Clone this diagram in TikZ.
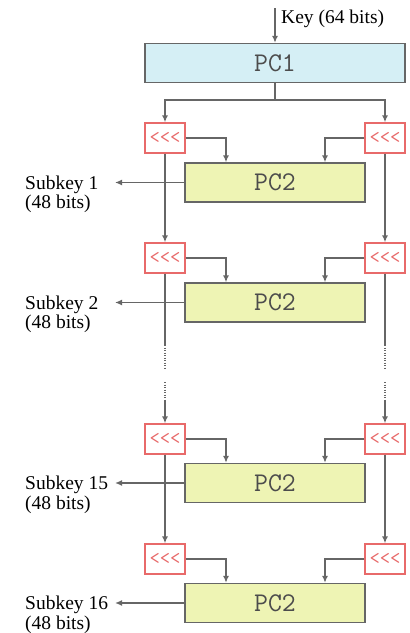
\documentclass[tikz,border=0pt]{standalone}
\usepackage{fontspec}
\setmainfont{Liberation Serif}
\usetikzlibrary{arrows.meta}
\definecolor{linegray}{HTML}{666666}
\definecolor{pcone}{HTML}{D5EFF5}
\definecolor{pctwo}{HTML}{EEF4B4}
\definecolor{shred}{HTML}{E86A6A}
\begin{document}
\begin{tikzpicture}[x=1pt,y=-1pt,
  pcbox/.style={draw=linegray, line width=1.3pt, minimum height=39pt, inner sep=0pt,
    font=\ttfamily\fontsize{27}{27}\selectfont, text=black!70},
  shbox/.style={draw=shred, fill=white, line width=1.3pt, minimum width=40pt, minimum height=30pt,
    inner sep=0pt, text=shred, font=\ttfamily\fontsize{20}{20}\selectfont},
  arr/.style={draw=linegray, line width=1.5pt, -{Latex[length=7pt,width=6pt]}},
  plain/.style={draw=linegray, line width=1.5pt},
  dotl/.style={draw=linegray, line width=1.5pt, dash pattern=on 1pt off 1.5pt},
  lbl/.style={font=\fontsize{19.5}{19.5}\selectfont, align=left, inner sep=0pt, anchor=west}]
\useasboundingbox (0,0) rectangle (410,633);

% PC1
\node[pcbox, fill=pcone, minimum width=260pt] (pc1) at (275,63) {PC1};
\coordinate (keyin) at (275,8);
\draw[arr] (keyin) -- (pc1.north);
\node[lbl] (keylbl) at (281,19) {Key (64 bits)};

% shift boxes
\node[shbox] (sl1) at (165,138) {<<<};
\node[shbox] (sr1) at (385,138) {<<<};
\node[shbox] (sl2) at (165,258) {<<<};
\node[shbox] (sr2) at (385,258) {<<<};
\node[shbox] (sl3) at (165,439) {<<<};
\node[shbox] (sr3) at (385,439) {<<<};
\node[shbox] (sl4) at (165,559) {<<<};
\node[shbox] (sr4) at (385,559) {<<<};

% PC2 boxes
\node[pcbox, fill=pctwo, minimum width=180pt] (p1) at (275,182.5) {PC2};
\node[pcbox, fill=pctwo, minimum width=180pt] (p2) at (275,302.5) {PC2};
\node[pcbox, fill=pctwo, minimum width=180pt] (p3) at (275,483) {PC2};
\node[pcbox, fill=pctwo, minimum width=180pt] (p4) at (275,603) {PC2};

% PC1 to first shifts
\draw[arr] (pc1.south) -- ++(0,17) -| (sl1.north);
\draw[arr] (pc1.south) -- ++(0,17) -| (sr1.north);

% shifts to PC2
\foreach \i in {1,2,3,4}{
  \draw[arr] (sl\i.east) -| ([xshift=-49pt]p\i.north);
  \draw[arr] (sr\i.west) -| ([xshift=50pt]p\i.north);
}

% vertical chains
\draw[arr] (sl1.south) -- (sl2.north);
\draw[arr] (sr1.south) -- (sr2.north);
\draw[arr] (sl3.south) -- (sl4.north);
\draw[arr] (sr3.south) -- (sr4.north);

% dotted gaps
\coordinate (la) at (165,345); \coordinate (lb) at (165,370);
\coordinate (lc) at (165,382); \coordinate (ld) at (165,401);
\coordinate (ra) at (385,345); \coordinate (rb) at (385,370);
\coordinate (rc) at (385,382); \coordinate (rd) at (385,401);
\draw[plain] (sl2.south) -- (la);
\draw[dotl] (la) -- (lb);
\draw[dotl] (lc) -- (ld);
\draw[arr] (ld) -- (sl3.north);
\draw[plain] (sr2.south) -- (ra);
\draw[dotl] (ra) -- (rb);
\draw[dotl] (rc) -- (rd);
\draw[arr] (rd) -- (sr3.north);

% subkey outputs
\coordinate (k1) at (115,182.5);
\coordinate (k2) at (115,302.5);
\coordinate (k3) at (115,483);
\coordinate (k4) at (115,603);
\draw[arr] (p1.west) -- (k1);
\draw[arr] (p2.west) -- (k2);
\draw[arr] (p3.west) -- (k3);
\draw[arr] (p4.west) -- (k4);
\node[lbl] (s1) at (25,194.5) {Subkey 1\\(48 bits)};
\node[lbl] (s2) at (25,314.5) {Subkey 2\\(48 bits)};
\node[lbl] (s3) at (25,495) {Subkey 15\\(48 bits)};
\node[lbl] (s4) at (25,615) {Subkey 16\\(48 bits)};
\end{tikzpicture}
\end{document}
